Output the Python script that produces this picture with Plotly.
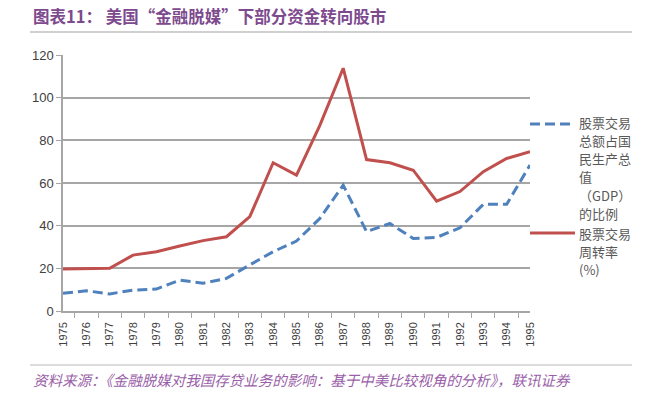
import plotly.graph_objects as go

years = [str(y) for y in range(1975, 1996)]
gdp_ratio = [8.3, 9.5, 8.0, 9.8, 10.3, 14.5, 13.0, 15.3, 21.6, 27.8, 32.8, 43.4, 59.0,
             37.2, 41.0, 34.0, 34.5, 39.0, 50.0, 50.0, 68.4]
turnover = [19.7, 19.7, 20.0, 26.2, 27.8, 30.5, 33.0, 34.8, 44.2, 69.5, 63.7, 87.0, 113.8,
            71.0, 69.5, 66.0, 51.5, 56.0, 65.3, 71.5, 74.7]
y_ticks = [0, 20, 40, 60, 80, 100, 120]
legend_gdp = ["股票交易", "总额占国", "民生产总", "值", "（GDP）", "的比例"]
legend_turn = ["股票交易", "周转率", "(%)"]
title = "图表11： 美国“金融脱媒”下部分资金转向股市"
source = "资料来源：《金融脱媒对我国存贷业务的影响：基于中美比较视角的分析》，联讯证券"

FONT = "Noto Sans CJK SC"
purple = "#7d4a8e"
BLUE = "#4f81bd"
RED = "#c0504d"

W, H = 668, 398
L, T, PW, PH = 63, 55, 467, 256


def px(xw):  # window x -> paper x
    return (xw - L) / PW


def py(yw):  # window y -> paper y
    return (T + PH - yw) / PH


fig = go.Figure()
fig.add_trace(go.Scatter(x=years, y=gdp_ratio, mode="lines", name="GDP",
                         line=dict(color=BLUE, width=3, dash="10px,5px")))
fig.add_trace(go.Scatter(x=years, y=turnover, mode="lines", name="turnover",
                         line=dict(color=RED, width=3)))

annotations = [
    dict(text="<b>" + title + "</b>", xref="paper", yref="paper",
         x=px(31), y=py(16), xanchor="left", yanchor="middle", showarrow=False,
         font=dict(size=16.5, color=purple, family=FONT)),
    dict(text="<i>" + source + "</i>", xref="paper", yref="paper",
         x=px(31), y=py(379), xanchor="left", yanchor="middle", showarrow=False,
         font=dict(size=14.5, color="#9a5fa8", family=FONT)),
]
shapes = []
for ypx, w in [(32, 2), (365, 1.5)]:
    shapes.append(dict(type="line", xref="paper", yref="paper", x0=px(30), x1=px(632),
                       y0=py(ypx), y1=py(ypx), line=dict(color="#d0d0d0", width=w)))

# legend
shapes.append(dict(type="line", xref="paper", yref="paper", x0=px(530), x1=px(570),
                   y0=py(124), y1=py(124), line=dict(color=BLUE, width=3, dash="10px,5px")))
shapes.append(dict(type="line", xref="paper", yref="paper", x0=px(530), x1=px(575),
                   y0=py(233), y1=py(233), line=dict(color=RED, width=3)))
for i, t in enumerate(legend_gdp):
    annotations.append(dict(text=t, xref="paper", yref="paper", x=px(577), y=py(122 + 18.3 * i),
                            xanchor="left", yanchor="middle", showarrow=False,
                            font=dict(size=13, color="#595959", family=FONT)))
for i, t in enumerate(legend_turn):
    annotations.append(dict(text=t, xref="paper", yref="paper", x=px(577), y=py(233 + 18 * i),
                            xanchor="left", yanchor="middle", showarrow=False,
                            font=dict(size=13, color="#595959", family=FONT)))

fig.update_layout(
    width=W, height=H,
    margin=dict(l=L, r=W - L - PW, t=T, b=H - T - PH, autoexpand=False),
    paper_bgcolor="white", plot_bgcolor="white",
    font=dict(family=FONT, color="#404040"),
    showlegend=False,
    hovermode=False,
    xaxis=dict(type="category", tickangle=-90, tickfont=dict(size=11, family="Arial, Liberation Sans"),
               showgrid=False, showline=True, linecolor="#a6a6a6", linewidth=1.5,
               ticks="outside", tickson="boundaries", ticklen=5, tickcolor="#a6a6a6",
               ticklabelstandoff=5),
    yaxis=dict(range=[0, 120], tickvals=y_ticks, tickfont=dict(size=13, family="Arial, Liberation Sans"),
               showgrid=True, gridcolor="#a6a6a6", gridwidth=1.5,
               showline=True, linecolor="#a6a6a6", linewidth=1.5,
               ticks="outside", ticklen=5, tickcolor="#a6a6a6", zeroline=False),
    annotations=annotations,
    shapes=shapes,
)

fig.write_html("out.html", config={"displayModeBar": False},
               post_script="document.body.style.margin='0';document.body.style.overflow='hidden';")
